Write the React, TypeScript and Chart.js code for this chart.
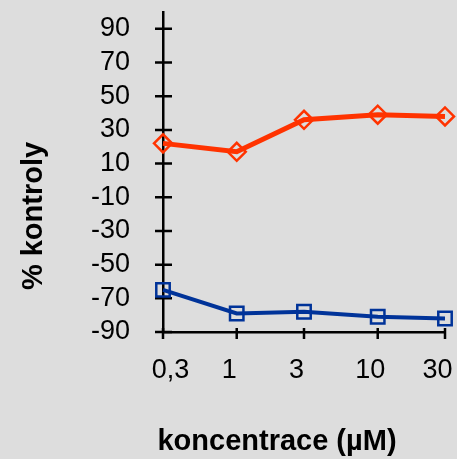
import React, { useEffect, useRef } from "react";
import { Chart, registerables } from "chart.js";

Chart.register(...registerables);

const concentrations = [0.3, 1, 3, 10, 30];
const xTickLabels = ["0,3", "1", "3", "10", "30"];
const redSeries = [22, 17, 36, 39, 38];
const blueSeries = [-65, -79, -78, -81, -82];
const yTicks = [-90, -70, -50, -30, -10, 10, 30, 50, 70, 90];
const yMin = -90;
const yMax = 100;
const yTitle = "% kontroly";
const xTitle = "koncentrace (µM)";

const FONT = "'Liberation Sans', Arial, sans-serif";
const BG = "#dddddd";

const decorPlugin = {
  id: "decor",
  beforeDraw(chart: any) {
    const { ctx, width, height } = chart;
    ctx.save();
    ctx.fillStyle = BG;
    ctx.fillRect(0, 0, width, height);
    ctx.restore();
  },
  beforeDatasetsDraw(chart: any) {
    const { ctx, chartArea } = chart;
    const xs = chart.scales.x;
    const ys = chart.scales.y;
    ctx.save();
    ctx.strokeStyle = "#000";
    ctx.lineWidth = 2.5;
    ctx.beginPath();
    yTicks.forEach((v) => {
      const py = ys.getPixelForValue(v);
      ctx.moveTo(chartArea.left - 8, py);
      ctx.lineTo(chartArea.left + 9, py);
    });
    concentrations.forEach((c) => {
      const px = xs.getPixelForValue(c);
      ctx.moveTo(px, chartArea.bottom - 4);
      ctx.lineTo(px, chartArea.bottom + 7);
    });
    ctx.stroke();
    ctx.restore();
  },
  afterDraw(chart: any) {
    const { ctx } = chart;
    ctx.save();
    ctx.fillStyle = "#000";
    ctx.font = `bold 29px ${FONT}`;
    ctx.textAlign = "center";
    ctx.textBaseline = "alphabetic";
    ctx.fillText(xTitle, 277, 450);
    ctx.translate(42, 216);
    ctx.rotate(-Math.PI / 2);
    ctx.fillText(yTitle, 0, 0);
    ctx.restore();
  },
};

export default function App() {
  const ref = useRef<HTMLCanvasElement | null>(null);

  useEffect(() => {
    if (!ref.current) return;
    const chart = new Chart(ref.current, {
      type: "line",
      data: {
        datasets: [
          {
            data: concentrations.map((c, i) => ({ x: c, y: redSeries[i] })),
            borderColor: "#ff3300",
            borderWidth: 5,
            pointStyle: "rectRot",
            pointRadius: 9,
            pointBorderWidth: 2.5,
            pointBorderColor: "#ff3300",
            pointBackgroundColor: "rgba(0,0,0,0)",
            clip: false,
          },
          {
            data: concentrations.map((c, i) => ({ x: c, y: blueSeries[i] })),
            borderColor: "#003399",
            borderWidth: 4,
            pointStyle: "rect",
            pointRadius: 9.5,
            pointBorderWidth: 2.5,
            pointBorderColor: "#003399",
            pointBackgroundColor: "rgba(0,0,0,0)",
            clip: false,
          },
        ],
      },
      options: {
        animation: false,
        responsive: false,
        maintainAspectRatio: false,
        layout: { padding: { left: 0, top: 10, right: 12, bottom: 0 } },
        plugins: { legend: { display: false }, tooltip: { enabled: false } },
        scales: {
          x: {
            type: "logarithmic",
            min: 0.3,
            max: 30,
            afterBuildTicks: (s: any) => {
              s.ticks = concentrations.map((v) => ({ value: v }));
            },
            afterFit: (s: any) => {
              s.height = 127;
              s.paddingLeft = 0;
              s.paddingRight = 0;
              s.paddingTop = 0;
              s.paddingBottom = 0;
            },
            grid: { display: false, drawTicks: false },
            border: { display: true, color: "#000", width: 2.5 },
            ticks: {
              autoSkip: false,
              maxRotation: 0,
              minRotation: 0,
              padding: 22,
              color: "#000",
              font: { family: FONT, size: 27 },
              // labels sit slightly off their ticks in the original (first right, others left)
              callback: (_v: any, i: number) =>
                i === 0 ? "  " + xTickLabels[i] : xTickLabels[i] + "  ",
            },
          },
          y: {
            type: "linear",
            min: yMin,
            max: yMax,
            afterBuildTicks: (s: any) => {
              s.ticks = yTicks.map((v) => ({ value: v }));
            },
            afterFit: (s: any) => {
              s.width = 163;
              s.paddingLeft = 0;
              s.paddingRight = 0;
              s.paddingTop = 0;
              s.paddingBottom = 0;
            },
            grid: { display: false, drawTicks: false },
            border: { display: true, color: "#000", width: 2.5 },
            ticks: {
              padding: 33,
              color: "#000",
              font: { family: FONT, size: 27 },
              callback: (v: any) => String(v),
            },
          },
        },
      },
      plugins: [decorPlugin],
    } as any);
    return () => chart.destroy();
  }, []);

  return (
    <div style={{ position: "absolute", left: 0, top: 0, width: 457, height: 459, background: BG }}>
      <canvas ref={ref} width={457} height={459} style={{ display: "block", width: 457, height: 459 }} />
    </div>
  );
}
